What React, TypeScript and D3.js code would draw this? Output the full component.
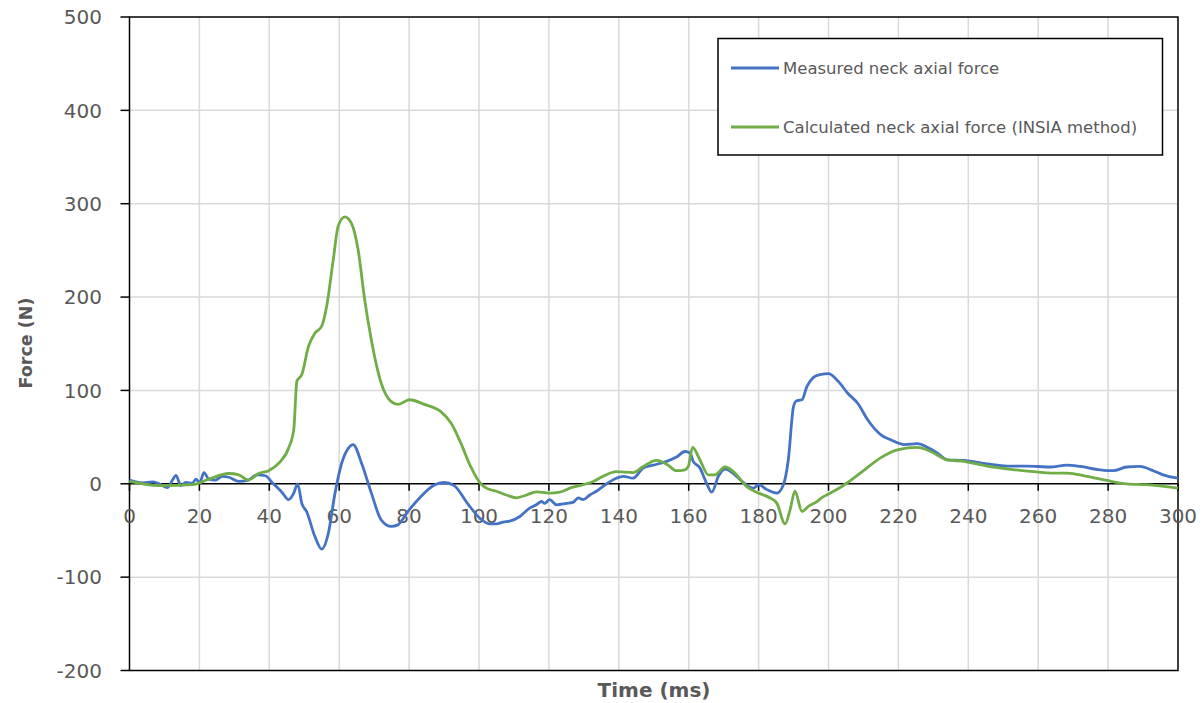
import React from "react";
import * as d3 from "d3";

// Measured neck axial force (blue)
const measuredTime = [
  0, 3.8, 6.6, 8.5, 10.9, 12.3, 13.3, 14.7, 16.1, 18, 19, 20.1, 21.3, 22.7, 24.6, 26.5, 28.4, 31.3, 34, 36.5,
  38.9, 40.8, 43.6, 45.5, 47, 48.1, 49.3, 50.7, 53, 55, 56.9, 58.8, 60.7, 62.6, 64, 66.4, 69.2, 72, 74.9, 76.8,
  79.6, 83.4, 87.2, 90, 92.9, 96.7, 100.2, 103, 105, 106.9, 108.8, 111.7, 114.5, 116.4, 117.9, 118.8, 120.2,
  122.2, 125, 126.9, 128.4, 129.8, 131.7, 133.6, 136.5, 139.3, 141.3, 144.1, 147, 149.9, 153.7, 156.5, 158.9,
  160.4, 161.3, 163.2, 165.1, 166.6, 168.5, 170.4, 172.8, 175.6, 178.5, 180, 182.3, 185.2, 187.1, 188.5, 190,
  190.9, 192.4, 193.8, 195.7, 197.6, 200, 202.7, 205.5, 208.4, 211.2, 215, 217.9, 221.7, 225.5, 228.3, 231.1,
  234, 238.7, 245.4, 251.1, 256.8, 263.4, 268.2, 272, 277.7, 281.5, 285.3, 289.1, 292.9, 295.7, 300,
];
const measuredForce = [
  4, 1, 2, 0, -4, 4, 9, -2, 1.4, 0.7, 5, 1.4, 12, 5, 4, 8, 7, 2.5, 4, 9.6,
  8.6, 1.4, -9, -17, -10, 0, -21, -30, -56, -70, -53, -10, 22, 38, 42, 22, -10, -38.6, -45.7, -44,
  -30, -13.6, -1.4, 1.4, -2, -21, -36.8, -43, -43, -41, -40, -35, -26, -22.5, -19, -21, -17,
  -22.5, -21, -20, -15, -17, -12, -8, 0, 6, 8, 6, 17, 20, 24, 28.6, 34.6,
  33, 24, 17, 0.7, -9, 8, 15.7, 11, 1.4, -4.6, -1, -6, -10, -1, 25.7, 83,
  89, 90, 104, 114, 117, 118, 110, 97, 86, 68.6, 52.5, 47, 42, 43, 39, 33,
  25.7, 25, 21.4, 19, 19, 18, 20, 18.6, 15, 14, 18, 18.6, 14, 9.6, 6,
];

// Calculated neck axial force, INSIA method (green)
const calculatedTime = [
  0, 8.5, 18, 22.7, 28.4, 31.3, 34, 37, 39.8, 42.7, 45.5, 47, 47.9, 49.3, 51.2, 53, 55, 56.4, 58.3, 59.7,
  61.6, 63.5, 65.4, 67.3, 69.2, 72, 74.9, 76.8, 80.1, 84.4, 89, 92, 94.8, 97.6, 100.5, 102.1, 105, 107.8,
  110.7, 113.6, 116.4, 120.2, 123.1, 126, 129.8, 132.7, 135.5, 139.3, 144.1, 147, 150.8, 153.7, 156.5, 158.9,
  159.9, 161.1, 163.2, 165.6, 167.5, 170.4, 172.8, 176.6, 180, 183.2, 185.2, 187.6, 189, 190.4, 192.4, 194.3,
  196.7, 198, 200, 202, 205.5, 210.3, 215, 219.7, 225.5, 229.2, 234, 238.7, 245.4, 251.1, 258.7, 264.4,
  268.2, 273.9, 279.6, 285.3, 291, 300,
];
const calculatedForce = [
  2.5, -2, -1, 5, 11, 9.6, 4, 11, 14, 22, 38, 58, 110, 117, 147, 161, 169, 190, 240, 276,
  286, 279, 251, 197, 154, 108, 88, 85, 90, 85, 77.5, 65, 43.6, 18.6, 0, -4.6, -8, -12,
  -15, -12, -8.6, -10, -9, -4.6, -1, 2.5, 8, 13, 12, 18.6, 25, 21, 14, 15,
  18.6, 39, 25.7, 9.6, 9.6, 18, 13, -3, -10, -15, -20.7, -43, -28, -8, -29.6, -24,
  -19, -15, -11, -7, 1.4, 15, 28, 36.4, 39, 34.6, 25.7, 24, 19, 16, 13, 11.4,
  11.4, 8, 3.6, 0, -1, -4.6,
];

const xTicks = [0, 20, 40, 60, 80, 100, 120, 140, 160, 180, 200, 220, 240, 260, 280, 300];
const yTicks = [-200, -100, 0, 100, 200, 300, 400, 500];

const seriesNames = ["Measured neck axial force", "Calculated neck axial force (INSIA method)"];
const seriesColors = ["#4472C4", "#70AD47"];

const W = 1203;
const H = 703;
const plot = { left: 129.5, right: 1178, top: 17, bottom: 670.5 };
const textColor = "#595959";
const font = "'DejaVu Sans', Verdana, sans-serif";

export default function App() {
  const x = d3.scaleLinear().domain([0, 300]).range([plot.left, plot.right]);
  const y = d3.scaleLinear().domain([-200, 500]).range([plot.bottom, plot.top]);

  const line = d3
    .line<[number, number]>()
    .x((d) => x(d[0]))
    .y((d) => y(d[1]))
    .curve(d3.curveMonotoneX);

  const measured = measuredTime.map((t, i) => [t, measuredForce[i]] as [number, number]);
  const calculated = calculatedTime.map((t, i) => [t, calculatedForce[i]] as [number, number]);
  const y0 = y(0);

  return (
    <svg
      width={W}
      height={H}
      style={{ position: "absolute", left: 0, top: 0, background: "#fff" }}
      fontFamily={font}
    >
      <rect x={0} y={0} width={W} height={H} fill="#fff" />

      {/* grid */}
      <g stroke="#d9d9d9" strokeWidth={1.5}>
        {xTicks.slice(1, -1).map((t) => (
          <line key={"gx" + t} x1={x(t)} x2={x(t)} y1={plot.top} y2={plot.bottom} />
        ))}
        {yTicks.slice(1, -1).filter((t) => t !== 0).map((t) => (
          <line key={"gy" + t} x1={plot.left} x2={plot.right} y1={y(t)} y2={y(t)} />
        ))}
      </g>

      {/* plot frame */}
      <rect
        x={plot.left}
        y={plot.top}
        width={plot.right - plot.left}
        height={plot.bottom - plot.top}
        fill="none"
        stroke="#000"
        strokeWidth={1.5}
      />

      {/* zero axis with ticks */}
      <line x1={plot.left} x2={plot.right} y1={y0} y2={y0} stroke="#000" strokeWidth={1.5} />
      {xTicks.map((t) => (
        <line key={"tx" + t} x1={x(t)} x2={x(t)} y1={y0} y2={y0 + 7} stroke="#000" strokeWidth={1.5} />
      ))}
      {xTicks.map((t) => (
        <text
          key={"lx" + t}
          x={x(t)}
          y={y0 + 39}
          textAnchor="middle"
          fontSize={20}
          fill={textColor}
        >
          {t}
        </text>
      ))}

      {/* y ticks */}
      {yTicks.map((t) => (
        <line key={"ty" + t} x1={plot.left - 9} x2={plot.left} y1={y(t)} y2={y(t)} stroke="#000" strokeWidth={1.5} />
      ))}
      {yTicks.map((t) => (
        <text
          key={"ly" + t}
          x={102}
          y={y(t)}
          dy="0.36em"
          textAnchor="end"
          fontSize={20}
          fill={textColor}
        >
          {t}
        </text>
      ))}

      {/* series */}
      <path d={line(measured) || ""} fill="none" stroke={seriesColors[0]} strokeWidth={2.8} strokeLinejoin="round" />
      <path d={line(calculated) || ""} fill="none" stroke={seriesColors[1]} strokeWidth={2.8} strokeLinejoin="round" />

      {/* axis titles */}
      <text
        x={654}
        y={697}
        textAnchor="middle"
        fontSize={20}
        fontWeight="bold"
        fill={textColor}
      >
        Time (ms)
      </text>
      <text
        transform="translate(32,343) rotate(-90)"
        textAnchor="middle"
        fontSize={17.5}
        fontWeight="bold"
        fill={textColor}
      >
        Force (N)
      </text>

      {/* legend */}
      <rect x={718} y={38.5} width={444.5} height={116.5} fill="#fff" stroke="#000" strokeWidth={1.5} />
      {seriesNames.map((name, i) => (
        <g key={name}>
          <line
            x1={731}
            x2={779}
            y1={68 + i * 59}
            y2={68 + i * 59}
            stroke={seriesColors[i]}
            strokeWidth={2.8}
          />
          <text x={783} y={68 + i * 59} dy="0.35em" fontSize={16.5} fill={textColor}>
            {name}
          </text>
        </g>
      ))}
    </svg>
  );
}
